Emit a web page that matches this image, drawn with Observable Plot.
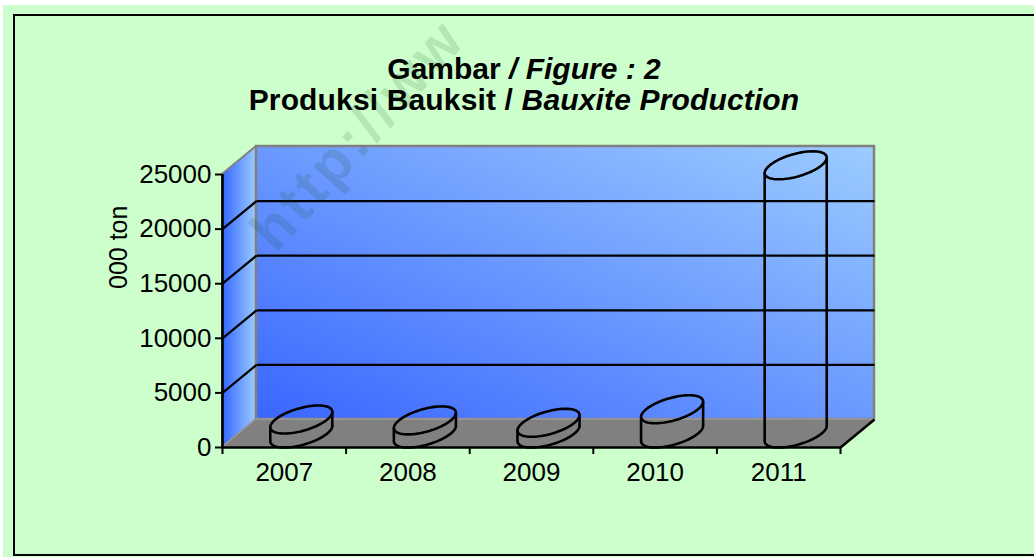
<!DOCTYPE html>
<html>
<head>
<meta charset="utf-8">
<script src="https://cdn.jsdelivr.net/npm/d3@7"></script>
<script src="https://cdn.jsdelivr.net/npm/@observablehq/plot@0.6"></script>
<style>
  html, body { margin: 0; padding: 0; background: #ffffff; }
  #page { position: relative; width: 1034px; height: 557px; overflow: hidden; font-family: "Liberation Sans", Arial, sans-serif; }
  #bg { position: absolute; left: 3px; top: 5px; right: 0; bottom: 0; background: #CCFFCC; }
  #frame { position: absolute; left: 13px; top: 14px; width: 1100px; height: 538px; border: 2px solid #000; }
  #title { position: absolute; left: 0; width: 1048px; top: 53px; text-align: center; font-weight: bold; font-size: 30px; line-height: 31px; color: #000; }
  #title .l2 { letter-spacing: 0.15px; }
  #chart { position: absolute; left: 0; top: 120px; }
  #wm { position: absolute; left: 0; top: 0; pointer-events: none; }
</style>
</head>
<body>
<div id="page">
  <div id="bg"></div>
  <div id="frame"></div>
  <div id="title">Gambar <span style="font-style:italic">/ Figure : 2</span><br><span class="l2">Produksi Bauksit / <span style="font-style:italic">Bauxite Production</span></span></div>
  <div id="chart"></div>
  <svg id="wm" width="1034" height="557"><text x="276" y="254" transform="rotate(-48 276 254)" font-family="Liberation Sans, Arial, sans-serif" font-weight="bold" font-size="58" letter-spacing="4" fill="#0a3a0a" fill-opacity="0.13">http://ww</text></svg>
</div>
<script>
// ---- data ----
const years = ["2007", "2008", "2009", "2010", "2011"];
const production = [1280, 1200, 980, 2220, 24560]; // 000 ton
const yTicks = [0, 5000, 10000, 15000, 20000, 25000];
const gridValues = [5000, 10000, 15000, 20000];
const yLabel = "000 ton";

// ---- 3D geometry (in scale units) ----
const N = years.length;
const DX = 0.275;   // depth offset along x (category units)
const DY = 2564;    // depth offset along y (value units)
const RX = 0.21;    // cylinder radius (category units)
const PHI = Math.atan2(0.5 * DX, RX);

const rows = years.map((year, i) => ({year, i, value: production[i]}));
const pt = (r, t, base) => {
  const d = 0.5 + 0.5 * Math.sin(t);
  return {year: r.year, x: r.i + 0.5 + RX * Math.cos(t) + d * DX, y: base + d * DY};
};
const topRing = [], bottomArc = [], sides = [];
for (const r of rows) {
  for (let k = 0; k <= 96; k++) topRing.push(pt(r, 2 * Math.PI * k / 96, r.value));
  for (let k = 0; k <= 48; k++) bottomArc.push(pt(r, Math.PI + PHI + Math.PI * k / 48, 0));
  for (const t of [Math.PI + PHI, PHI]) {
    const a = pt(r, t, 0), b = pt(r, t, r.value);
    sides.push({year: r.year, x1: a.x, y1: a.y, x2: b.x, y2: b.y});
  }
}

const defs = () => {
  const g = d3.create("svg:defs");
  const back = g.append("linearGradient").attr("id", "gBack")
    .attr("x1", 0).attr("y1", 1).attr("x2", 1).attr("y2", 0);
  back.append("stop").attr("offset", "0%").attr("stop-color", "#3A66FF");
  back.append("stop").attr("offset", "100%").attr("stop-color", "#9CCCFF");
  const left = g.append("linearGradient").attr("id", "gLeft")
    .attr("x1", 0).attr("y1", 0).attr("x2", 1).attr("y2", 0);
  left.append("stop").attr("offset", "0%").attr("stop-color", "#3366FF");
  left.append("stop").attr("offset", "100%").attr("stop-color", "#9CCCFF");
  return g.node();
};

const chart = Plot.plot({
  width: 1034,
  height: 430,
  marginLeft: 222,
  marginRight: 160,
  marginTop: 26,
  marginBottom: 103,
  x: {type: "linear", domain: [0, N + DX], axis: null},
  y: {type: "linear", domain: [0, 25000 + DY], axis: null},
  style: {background: "transparent", fontFamily: "Liberation Sans, Arial, sans-serif", color: "#000", overflow: "visible"},
  marks: [
    defs,
    // left wall
    Plot.areaY([{x: 0, y1: 0, y2: 25000}, {x: DX, y1: DY, y2: 25000 + DY}],
      {x: "x", y1: "y1", y2: "y2", fill: "url(#gLeft)", stroke: "#808080", strokeWidth: 2}),
    // back wall
    Plot.rect([{x1: DX, x2: N + DX, y1: DY, y2: 25000 + DY}],
      {x1: "x1", x2: "x2", y1: "y1", y2: "y2", fill: "url(#gBack)", stroke: "#808080", strokeWidth: 2.5}),
    // floor
    Plot.areaX([{y: 0, x1: 0, x2: N}, {y: DY, x1: DX, x2: N + DX}],
      {y: "y", x1: "x1", x2: "x2", fill: "#808080", stroke: "#a8a8a8", strokeWidth: 1}),
    // gridlines on walls
    Plot.link(gridValues, {x1: () => 0, x2: () => DX, y1: d => d, y2: d => d + DY, stroke: "#000", strokeWidth: 2.2}),
    Plot.link(gridValues, {x1: () => DX, x2: () => N + DX, y1: d => d + DY, y2: d => d + DY, stroke: "#000", strokeWidth: 2.2}),
    // cylinders (outline only)
    Plot.line(bottomArc, {x: "x", y: "y", z: "year", stroke: "#000", strokeWidth: 2.6}),
    Plot.link(sides, {x1: "x1", y1: "y1", x2: "x2", y2: "y2", stroke: "#000", strokeWidth: 2.6}),
    Plot.line(topRing, {x: "x", y: "y", z: "year", stroke: "#000", strokeWidth: 2.6}),
    // axes lines
    Plot.ruleX([0], {y1: () => 0, y2: () => 25000, stroke: "#000", strokeWidth: 2.6}),
    Plot.ruleY([0], {x1: () => 0, x2: () => N, stroke: "#000", strokeWidth: 2.6}),
    Plot.link([0], {x1: () => N, y1: () => 0, x2: () => N + DX, y2: () => DY, stroke: "#000", strokeWidth: 2.6}),
    Plot.axisY({ticks: yTicks, tickSize: 7, tickPadding: 4, fontSize: 26, strokeWidth: 2, label: null, tickFormat: d => String(d)}),
    Plot.axisX({ticks: d3.range(N + 1), tickSize: 7, strokeWidth: 2, tickFormat: () => "", label: null}),
    Plot.axisX({ticks: years.map((d, i) => i + 0.5), tickSize: 0, tickPadding: 15, fontSize: 26, label: null,
      tickFormat: d => years[Math.floor(d)]}),
    Plot.text([yLabel], {text: d => d, frameAnchor: "left", dx: -104, dy: -8, rotate: -90, fontSize: 25, fill: "#000"})
  ]
});
document.getElementById("chart").appendChild(chart);
</script>
</body>
</html>
